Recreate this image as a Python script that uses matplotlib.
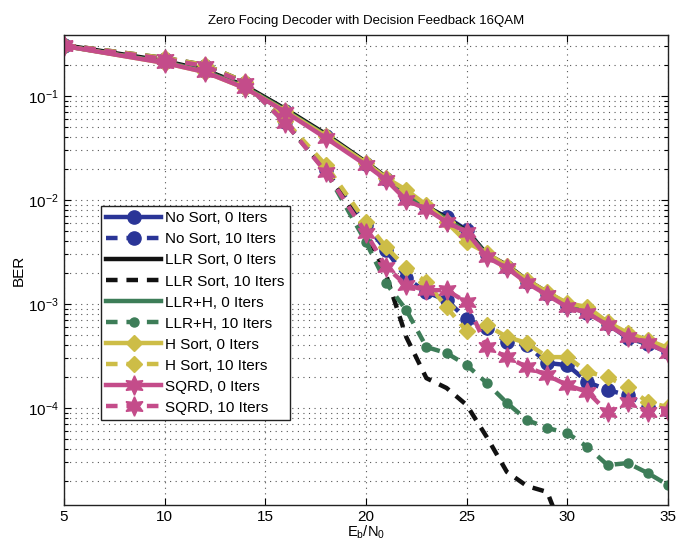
import numpy as np
import matplotlib
matplotlib.use("Agg")
import matplotlib.pyplot as plt
from matplotlib.ticker import LogLocator, FixedLocator, NullFormatter

plt.rcParams['font.family'] = ['Liberation Sans', 'DejaVu Sans']
plt.rcParams['mathtext.fontset'] = 'custom'
plt.rcParams['mathtext.rm'] = 'Liberation Sans'
plt.rcParams['mathtext.it'] = 'Liberation Sans'

nan = np.nan
EbN0 = [5, 10, 12, 14, 16, 18, 20, 21, 22, 23, 24, 25, 26, 27, 28, 29, 30, 31, 32, 33, 34, 35]

nosort_0 = [0.303, 0.212, 0.174, 0.122, 0.0717, 0.0413, 0.0222, 0.0159, 0.0107, 0.00857, 0.00687, 0.00515,
            0.00296, 0.00227, 0.00163, 0.00125, 0.000957, 0.000819, 0.000642, 0.000471, 0.000412, 0.000345]
nosort_10 = [0.309, 0.227, 0.194, 0.133, 0.0562, 0.0194, 0.00575, 0.00330, 0.00178, 0.00130, 0.00109, 0.000718,
             0.000588, 0.000431, 0.000403, 0.000271, 0.000259, 0.000178, 0.000149, 0.000133, 0.000102, 0.0000957]
llr_0 = [0.309, 0.217, 0.178, 0.125, 0.0750, 0.0431, 0.0232, 0.0166, 0.0109, 0.00875, 0.00671, 0.00504,
         0.00303, 0.00237, 0.00170, 0.00130, 0.00100, 0.000857, 0.000671, 0.000492, 0.000431, 0.000353]
llr_10 = [0.309, 0.232, 0.199, 0.136, 0.0562, 0.0194, 0.00492, 0.00190, 0.000482, 0.000194, 0.000156, 0.000107,
          0.0000526, 0.0000243, 0.0000178, 0.0000156, 0.000005, nan, nan, nan, nan, nan]
llrh_0 = [0.303, 0.212, 0.174, 0.122, 0.0730, 0.0420, 0.0227, 0.0163, 0.0107, 0.00857, 0.00657, 0.00493,
          0.00297, 0.00232, 0.00166, 0.00127, 0.00098, 0.00084, 0.00066, 0.00048, 0.00042, 0.00035]
llrh_10 = [0.309, 0.227, 0.194, 0.133, 0.0550, 0.0190, 0.00394, 0.00159, 0.000875, 0.000386, 0.000338, 0.000259,
           0.000174, 0.000112, 0.0000767, 0.0000643, 0.0000575, 0.0000422, 0.0000283, 0.0000296, 0.0000237, 0.0000182]
hsort_0 = [0.303, 0.208, 0.170, 0.119, 0.0717, 0.0413, 0.0227, 0.0163, 0.0125, 0.00895, 0.00614, 0.00394,
           0.00309, 0.00232, 0.00170, 0.00130, 0.00102, 0.000935, 0.000671, 0.000526, 0.000451, 0.000378]
hsort_10 = [0.309, 0.232, 0.199, 0.136, 0.0575, 0.0217, 0.00614, 0.00353, 0.00222, 0.00163, 0.000935, 0.000550,
            0.000628, 0.000482, 0.000422, 0.000309, 0.000309, 0.000222, 0.000199, 0.000159, 0.000114, 0.000102]
sqrd_0 = [0.303, 0.208, 0.170, 0.119, 0.0702, 0.0395, 0.0217, 0.0156, 0.0100, 0.00819, 0.00614, 0.00492,
          0.00283, 0.00222, 0.00159, 0.00122, 0.000935, 0.000819, 0.000628, 0.000482, 0.000422, 0.000338]
sqrd_10 = [0.309, 0.227, 0.194, 0.133, 0.0550, 0.0186, 0.00482, 0.00227, 0.00152, 0.00136, 0.00136, 0.00104,
           0.000386, 0.000309, 0.000248, 0.000207, 0.000166, 0.000143, 0.0000916, 0.000114, 0.0000916, 0.0000935]

labels = ['No Sort, 0 Iters', 'No Sort, 10 Iters', 'LLR Sort, 0 Iters', 'LLR Sort, 10 Iters',
          'LLR+H, 0 Iters', 'LLR+H, 10 Iters', 'H Sort, 0 Iters', 'H Sort, 10 Iters',
          'SQRD, 0 Iters', 'SQRD, 10 Iters']

BLUE = '#2A3597'
BLACK = '#111111'
GREEN = '#3D7D58'
YELLOW = '#CDBD47'
PINK = '#C44C8A'
star6 = (6, 1, 0)

series = [
    (nosort_0, BLUE, '-', 'o', 9.5),
    (nosort_10, BLUE, '--', 'o', 9.5),
    (llr_0, BLACK, '-', None, 0),
    (llr_10, BLACK, '--', None, 0),
    (llrh_0, GREEN, '-', None, 0),
    (llrh_10, GREEN, '--', 'o', 6.5),
    (hsort_0, YELLOW, '-', 'D', 8.5),
    (hsort_10, YELLOW, '--', 'D', 8.5),
    (sqrd_0, PINK, '-', star6, 14),
    (sqrd_10, PINK, '--', star6, 14),
]

fig = plt.figure(figsize=(6.76, 5.42), dpi=100)
ax = fig.add_axes([64 / 676, 1 - 505 / 542, (668 - 64) / 676, (505 - 35) / 542])

for (y, c, ls, mk, ms), lab in zip(series, labels):
    kw = dict(color=c, lw=3.2, label=lab, marker=mk, markersize=ms,
              markerfacecolor=c, markeredgecolor=c)
    if ls == '--':
        kw['dashes'] = (2.6, 2.0)
    ax.semilogy(EbN0, y, linestyle=ls, **kw)

ax.set_xlim(5, 35)
ax.set_ylim(1.17e-5, 0.386)
ax.xaxis.set_major_locator(FixedLocator([5, 10, 15, 20, 25, 30, 35]))
ax.yaxis.set_major_locator(LogLocator(base=10, numticks=10))
ax.yaxis.set_minor_locator(LogLocator(base=10, subs=np.arange(2, 10), numticks=20))
ax.yaxis.set_minor_formatter(NullFormatter())

ax.grid(True, which='major', axis='both', linestyle=(0, (1, 4)), color='#555555', lw=0.8)
ax.grid(True, which='minor', axis='y', linestyle=(0, (1, 4)), color='#555555', lw=0.8)
ax.tick_params(which='both', direction='in', top=True, right=True, labelsize=11, width=0.8)
ax.tick_params(which='major', length=5)
ax.tick_params(which='minor', length=3)
for s in ax.spines.values():
    s.set_linewidth(1.0)
    s.set_color('#222222')

ax.set_title('Zero Focing Decoder with Decision Feedback 16QAM', fontsize=9.5, pad=8)
ax.set_xlabel(r'$\mathregular{E_b/N_0}$', fontsize=10.5, labelpad=0)
ax.set_ylabel('BER', fontsize=11, labelpad=2)

leg = ax.legend(loc='upper left', bbox_to_anchor=(0.061, 0.636), borderaxespad=0,
                fontsize=11, handlelength=3.6, numpoints=1, fancybox=False,
                framealpha=1, edgecolor='#222222', labelspacing=0.46, borderpad=0.35,
                handletextpad=0.25)
leg.get_frame().set_linewidth(1.0)

fig.savefig('out.png', dpi=100)
